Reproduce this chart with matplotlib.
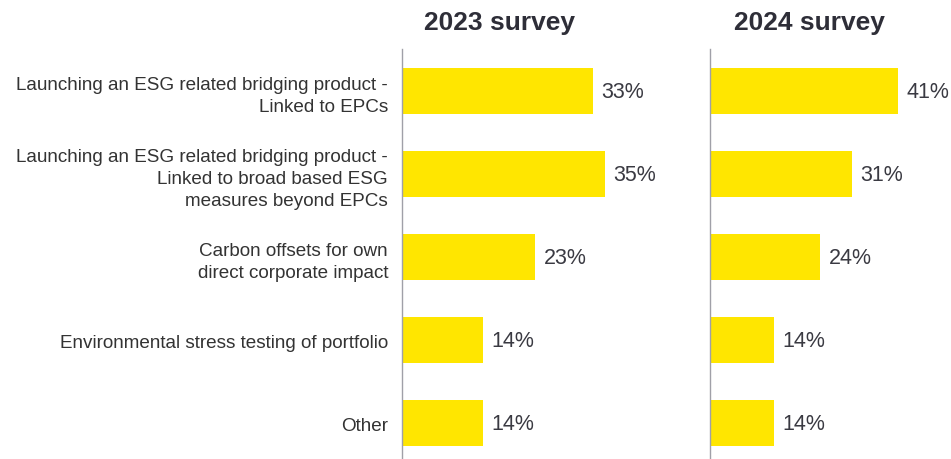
"""Horizontal bar comparison of ESG initiatives across two survey years."""

import matplotlib

matplotlib.use("Agg")

import matplotlib.pyplot as plt

plt.rcParams["font.family"] = ["Liberation Sans", "DejaVu Sans"]

categories = [
    "Launching an ESG related bridging product -\nLinked to EPCs",
    "Launching an ESG related bridging product -\nLinked to broad based ESG\nmeasures beyond EPCs",
    "Carbon offsets for own\ndirect corporate impact",
    "Environmental stress testing of portfolio",
    "Other",
]
values_2023 = [33, 35, 23, 14, 14]
values_2024 = [41, 31, 24, 14, 14]
panel_titles = ["2023 survey", "2024 survey"]

BAR_COLOR = "#FFE600"
TEXT_COLOR = "#2E2E38"
AXIS_COLOR = "#A0A0A8"

fig = plt.figure(figsize=(9.51, 4.6), dpi=100)
W, H = 951, 460

ax_left = fig.add_axes([402 / W, 0, 290 / W, 410 / H])
ax_right = fig.add_axes([710 / W, 0, 241 / W, 410 / H])

positions = list(range(len(categories)))

for ax, values, xmax in ((ax_left, values_2023, 50), (ax_right, values_2024, 52.5)):
    ax.barh(positions, values, height=0.55, color=BAR_COLOR, zorder=2)
    for y, v in zip(positions, values):
        ax.annotate(f"{v}%", (v, y), xytext=(6, 0), textcoords="offset points",
                    va="center", ha="left", fontsize=15.5, color="#3A3A42")
    ax.set_xlim(0, xmax)
    ax.set_ylim(4.43, -0.506)
    for side in ("top", "right", "bottom"):
        ax.spines[side].set_visible(False)
    ax.spines["left"].set_color(AXIS_COLOR)
    ax.spines["left"].set_linewidth(1.0)
    ax.set_xticks([])
    ax.tick_params(axis="y", length=0)

ax_left.set_yticks(positions)
ax_left.set_yticklabels(categories, fontsize=13.6, color="#333333",
                        linespacing=1.38, ha="right")
ax_left.tick_params(axis="y", pad=10)
ax_right.set_yticks([])

fig.text(500 / W, 1 - 23 / H, panel_titles[0], ha="center", va="center",
         fontsize=19, fontweight="bold", color=TEXT_COLOR)
fig.text(809 / W, 1 - 23 / H, panel_titles[1], ha="center", va="center",
         fontsize=19, fontweight="bold", color=TEXT_COLOR)

fig.savefig("out.png", dpi=100)
